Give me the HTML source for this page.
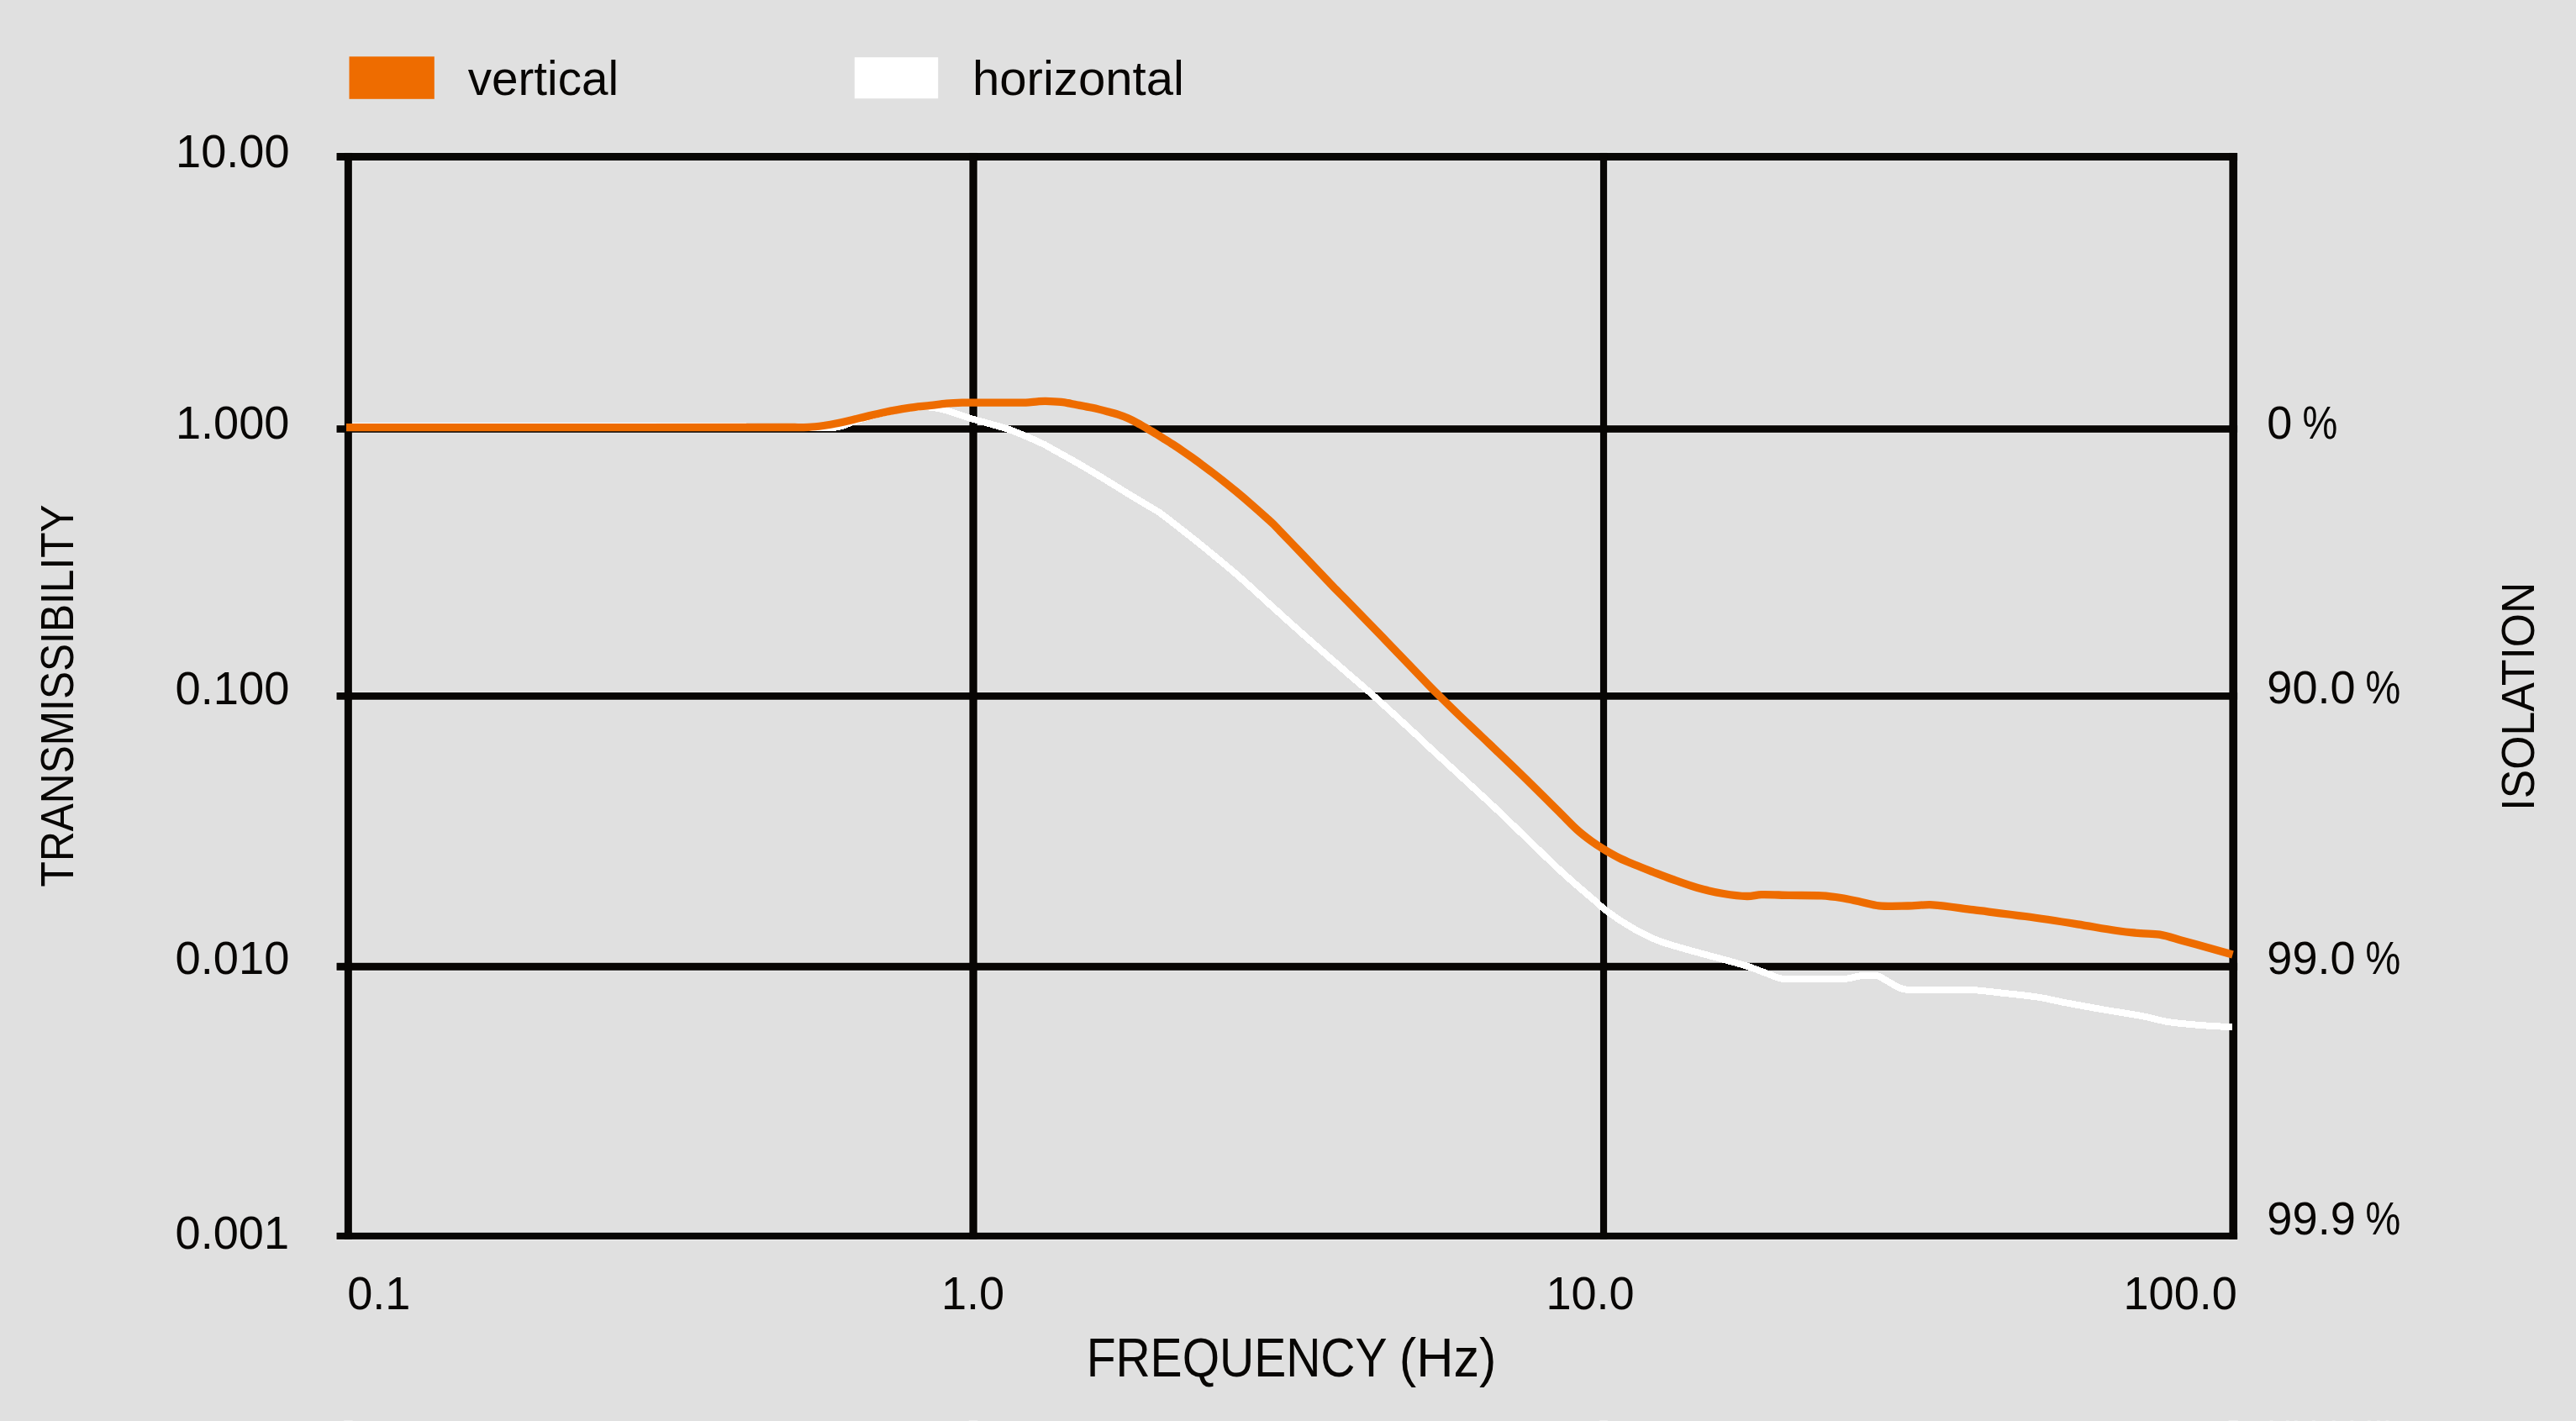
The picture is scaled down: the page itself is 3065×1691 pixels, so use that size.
<!DOCTYPE html>
<html lang="en"><head><meta charset="utf-8"><title>Transmissibility vs. Frequency</title>
<style>
html,body{margin:0;padding:0;background:#e0e0e0;overflow:hidden;}
body{width:3065px;height:1691px;overflow:hidden;}
svg{display:block;}
.t{font-family:"Liberation Sans",sans-serif;fill:#080604;}
.g{fill:#080604;}
</style></head><body>
<svg width="3065" height="1691" viewBox="0 0 3065 1691">
<rect x="0" y="0" width="3065" height="1691" fill="#e0e0e0"/>
<rect x="415.5" y="67.3" width="101.3" height="50.5" fill="#ee6c00"/>
<rect x="1016.8" y="68.2" width="99.4" height="49" fill="#ffffff"/>
<g fill="#e9e9e9">
<rect x="399.20" y="180.66" width="2264.20" height="11.68"/>
<rect x="399.20" y="504.90" width="2264.20" height="11.20"/>
<rect x="399.20" y="822.75" width="2264.20" height="11.25"/>
<rect x="399.20" y="1144.46" width="2264.20" height="11.64"/>
<rect x="399.20" y="1465.50" width="2264.20" height="10.70"/>
<rect x="408.50" y="180.66" width="11.65" height="1295.54"/>
<rect x="1152.10" y="180.66" width="11.90" height="1295.54"/>
<rect x="1902.60" y="180.66" width="10.85" height="1295.54"/>
<rect x="2651.10" y="180.66" width="12.30" height="1295.54"/>
<rect x="409.20" y="1690" width="10.25" height="1" fill="#ececec"/>
<rect x="1152.80" y="1690" width="10.50" height="1" fill="#ececec"/>
<rect x="1903.30" y="1690" width="9.45" height="1" fill="#ececec"/>
<rect x="2651.80" y="1690" width="10.90" height="1" fill="#ececec"/>
<rect x="2700.6" y="1690" width="3.8" height="1" fill="#e8e8e8"/>
<rect x="2720.0" y="1690" width="3.8" height="1" fill="#e8e8e8"/>
<rect x="2730.0" y="1690" width="3.8" height="1" fill="#e8e8e8"/>
<rect x="2751.0" y="1690" width="3.8" height="1" fill="#e8e8e8"/>
<rect x="2775.0" y="1690" width="3.8" height="1" fill="#e8e8e8"/>
<rect x="2796.5" y="1690" width="3.8" height="1" fill="#e8e8e8"/>
<rect x="2817.0" y="1690" width="3.8" height="1" fill="#e8e8e8"/>
<rect x="2828.0" y="1690" width="3.8" height="1" fill="#e8e8e8"/>
<rect x="2838.5" y="1690" width="3.8" height="1" fill="#e8e8e8"/>
</g>
<g class="g">
<rect x="400.50" y="181.96" width="2261.60" height="9.08"/>
<rect x="400.50" y="506.20" width="2261.60" height="8.60"/>
<rect x="400.50" y="824.05" width="2261.60" height="8.65"/>
<rect x="400.50" y="1145.76" width="2261.60" height="9.04"/>
<rect x="400.50" y="1466.80" width="2261.60" height="8.10"/>
<rect x="409.80" y="181.96" width="9.05" height="1292.94"/>
<rect x="1153.40" y="181.96" width="9.30" height="1292.94"/>
<rect x="1903.90" y="181.96" width="8.25" height="1292.94"/>
<rect x="2652.40" y="181.96" width="9.70" height="1292.94"/>
</g>
<path d="M419.20 507.40 C512.80 507.40 606.40 507.36 700.00 507.40 C780.00 507.43 860.00 507.24 940.00 507.60 C948.34 507.64 956.67 508.30 965.00 508.60 C971.67 508.84 978.33 509.41 985.00 509.20 C990.03 509.04 995.12 508.74 1000.00 507.50 C1006.60 505.82 1012.72 502.59 1019.20 500.50 C1026.89 498.02 1034.67 495.79 1042.50 493.80 C1051.74 491.45 1061.04 489.29 1070.40 487.50 C1076.58 486.32 1082.84 485.58 1089.10 484.90 C1092.72 484.51 1096.36 484.28 1100.00 484.30 C1103.34 484.32 1106.69 484.56 1110.00 485.00 C1113.93 485.53 1117.87 486.18 1121.70 487.20 C1127.88 488.85 1133.91 491.02 1140.00 493.00 C1144.78 494.55 1149.51 496.27 1154.30 497.80 C1156.18 498.40 1158.10 498.87 1160.00 499.40 C1166.67 501.27 1173.34 503.10 1180.00 505.00 C1186.34 506.80 1192.75 508.39 1199.00 510.50 C1204.73 512.43 1210.33 514.75 1215.90 517.10 C1224.53 520.75 1233.13 524.50 1241.60 528.50 C1244.50 529.87 1247.20 531.64 1250.00 533.20 C1260.33 538.97 1270.74 544.60 1281.00 550.50 C1291.44 556.50 1301.79 562.67 1312.10 568.90 C1322.46 575.17 1332.66 581.69 1343.00 588.00 C1350.63 592.66 1358.34 597.20 1366.00 601.80 C1370.27 604.36 1374.66 606.74 1378.80 609.50 C1382.67 612.08 1386.30 614.99 1390.00 617.80 C1393.37 620.36 1396.67 622.99 1400.00 625.60 C1408.87 632.56 1417.86 639.38 1426.60 646.50 C1442.26 659.25 1457.92 672.00 1473.20 685.20 C1486.36 696.57 1498.99 708.55 1511.90 720.20 C1524.59 731.65 1537.21 743.17 1550.00 754.50 C1566.57 769.17 1583.32 783.65 1600.00 798.20 C1611.45 808.19 1623.08 817.96 1634.40 828.10 C1651.15 843.10 1667.67 858.36 1684.20 873.60 C1689.54 878.52 1694.69 883.65 1700.00 888.60 C1710.22 898.12 1720.54 907.53 1730.80 917.00 C1746.34 931.33 1762.01 945.51 1777.40 960.00 C1791.75 973.51 1805.80 987.34 1820.00 1001.00 C1831.26 1011.84 1842.39 1022.82 1853.80 1033.50 C1861.16 1040.39 1868.72 1047.06 1876.30 1053.70 C1883.72 1060.19 1891.35 1066.45 1898.80 1072.90 C1902.05 1075.71 1905.01 1078.86 1908.40 1081.50 C1914.29 1086.07 1920.35 1090.43 1926.60 1094.50 C1934.19 1099.44 1941.92 1104.22 1949.90 1108.50 C1957.47 1112.56 1965.17 1116.45 1973.20 1119.50 C1983.31 1123.34 1993.81 1126.07 2004.20 1129.10 C2014.52 1132.11 2024.93 1134.76 2035.30 1137.60 C2045.63 1140.43 2055.99 1143.18 2066.30 1146.10 C2071.53 1147.58 2076.77 1149.03 2081.90 1150.80 C2089.74 1153.50 2097.40 1156.69 2105.20 1159.50 C2110.34 1161.35 2115.28 1164.16 2120.70 1164.80 C2130.40 1165.95 2140.23 1164.80 2150.00 1164.80 C2165.07 1164.80 2180.16 1165.68 2195.20 1164.80 C2202.57 1164.37 2209.65 1161.54 2217.00 1160.90 C2222.65 1160.41 2228.47 1160.17 2234.00 1161.40 C2238.00 1162.29 2241.29 1165.15 2244.90 1167.10 C2250.10 1169.91 2254.94 1173.45 2260.40 1175.70 C2263.83 1177.12 2267.59 1177.78 2271.30 1178.00 C2280.85 1178.55 2290.43 1178.01 2300.00 1178.00 C2314.83 1177.98 2329.68 1177.28 2344.50 1177.90 C2355.95 1178.38 2367.31 1180.06 2378.70 1181.30 C2394.25 1182.99 2409.84 1184.37 2425.30 1186.70 C2435.73 1188.27 2445.94 1191.02 2456.30 1193.00 C2471.81 1195.96 2487.35 1198.78 2502.90 1201.50 C2518.41 1204.21 2534.03 1206.37 2549.50 1209.30 C2559.93 1211.27 2570.11 1214.58 2580.60 1216.20 C2593.45 1218.18 2606.44 1219.05 2619.40 1220.10 C2631.65 1221.09 2643.93 1221.57 2656.20 1222.30" fill="none" stroke="#ffffff" stroke-width="8.0" stroke-linejoin="round" stroke-linecap="butt" shape-rendering="crispEdges"/>
<path d="M412.00 508.70 C508.00 508.70 604.00 508.74 700.00 508.70 C780.00 508.67 860.00 508.62 940.00 508.50 C947.33 508.49 954.68 508.67 962.00 508.30 C968.02 508.00 974.02 507.29 980.00 506.50 C985.33 505.79 990.64 504.90 995.90 503.80 C1005.28 501.83 1014.57 499.49 1023.90 497.30 C1033.20 495.12 1042.45 492.66 1051.80 490.70 C1061.09 488.76 1070.42 486.99 1079.80 485.60 C1089.06 484.23 1098.40 483.48 1107.70 482.40 C1113.90 481.68 1120.08 480.73 1126.30 480.20 C1132.52 479.67 1138.76 479.40 1145.00 479.20 C1150.00 479.04 1155.00 479.11 1160.00 479.10 C1170.00 479.08 1180.00 479.10 1190.00 479.10 C1200.20 479.10 1210.40 479.40 1220.60 479.10 C1225.25 478.96 1229.86 478.16 1234.50 477.80 C1237.63 477.56 1240.76 477.23 1243.90 477.30 C1250.11 477.43 1256.33 477.67 1262.50 478.40 C1268.75 479.14 1274.91 480.55 1281.10 481.70 C1287.34 482.85 1293.60 483.94 1299.80 485.30 C1306.04 486.67 1312.22 488.28 1318.40 489.90 C1322.29 490.92 1326.18 491.93 1330.00 493.20 C1333.92 494.50 1337.81 495.95 1341.60 497.60 C1345.55 499.32 1349.39 501.28 1353.20 503.30 C1357.13 505.38 1360.96 507.65 1364.80 509.90 C1368.70 512.18 1372.54 514.55 1376.40 516.90 C1379.01 518.49 1381.61 520.08 1384.20 521.70 C1388.08 524.12 1391.97 526.51 1395.80 529.00 C1399.71 531.54 1403.56 534.17 1407.40 536.80 C1411.29 539.47 1415.16 542.16 1419.00 544.90 C1422.90 547.69 1426.75 550.55 1430.60 553.40 C1434.48 556.28 1438.36 559.17 1442.20 562.10 C1446.09 565.07 1449.97 568.05 1453.80 571.10 C1459.24 575.42 1464.66 579.76 1470.00 584.20 C1476.73 589.79 1483.39 595.46 1490.00 601.20 C1496.06 606.46 1502.03 611.84 1508.00 617.20 C1510.49 619.44 1513.02 621.65 1515.40 624.00 C1518.02 626.58 1520.45 629.35 1523.00 632.00 C1531.98 641.35 1541.04 650.63 1550.00 660.00 C1562.24 672.80 1574.33 685.74 1586.60 698.50 C1590.99 703.07 1595.57 707.46 1600.00 712.00 C1616.71 729.13 1633.37 746.30 1650.00 763.50 C1666.70 780.77 1683.28 798.15 1700.00 815.40 C1704.28 819.82 1708.63 824.17 1713.00 828.50 C1720.46 835.87 1727.94 843.23 1735.50 850.50 C1744.24 858.90 1753.13 867.14 1761.90 875.50 C1777.43 890.30 1793.02 905.05 1808.40 920.00 C1824.05 935.21 1839.50 950.63 1855.00 966.00 C1862.13 973.07 1868.88 980.54 1876.30 987.30 C1881.63 992.16 1887.38 996.54 1893.20 1000.80 C1898.09 1004.38 1903.21 1007.66 1908.40 1010.80 C1914.35 1014.40 1920.37 1017.90 1926.60 1021.00 C1932.59 1023.98 1938.82 1026.44 1945.00 1029.00 C1952.09 1031.94 1959.25 1034.72 1966.40 1037.50 C1973.81 1040.38 1981.21 1043.33 1988.70 1046.00 C1999.01 1049.67 2009.27 1053.53 2019.80 1056.50 C2030.00 1059.37 2040.36 1061.73 2050.80 1063.50 C2060.05 1065.07 2069.42 1066.27 2078.80 1066.50 C2084.50 1066.64 2090.10 1064.73 2095.80 1064.60 C2106.67 1064.36 2117.53 1065.20 2128.40 1065.40 C2141.37 1065.64 2154.35 1065.25 2167.30 1065.90 C2175.11 1066.29 2182.88 1067.29 2190.60 1068.50 C2198.43 1069.73 2206.14 1071.60 2213.90 1073.20 C2221.14 1074.70 2228.23 1077.17 2235.60 1077.80 C2247.03 1078.78 2258.53 1078.18 2270.00 1078.00 C2279.84 1077.85 2289.68 1076.21 2299.50 1076.80 C2315.62 1077.78 2331.57 1080.71 2347.60 1082.70 C2368.34 1085.28 2389.10 1087.65 2409.80 1090.50 C2430.54 1093.35 2451.22 1096.56 2471.90 1099.80 C2487.42 1102.23 2502.85 1105.23 2518.40 1107.50 C2527.70 1108.86 2537.05 1109.84 2546.40 1110.70 C2554.15 1111.41 2562.03 1110.89 2569.70 1112.20 C2578.67 1113.73 2587.31 1116.83 2596.10 1119.20 C2606.44 1121.99 2616.78 1124.83 2627.10 1127.70 C2636.91 1130.43 2646.70 1133.23 2656.50 1136.00" fill="none" stroke="#ee6c00" stroke-width="9.3" stroke-linejoin="round" stroke-linecap="butt"/>
<text class="t" y="113.09" font-size="56.50"><tspan x="556.68" textLength="179.37" lengthAdjust="spacingAndGlyphs">vertical</tspan></text>
<text class="t" y="112.96" font-size="56.50"><tspan x="1157.01" textLength="251.84" lengthAdjust="spacingAndGlyphs">horizontal</tspan></text>
<text class="t" y="198.96" font-size="55.90"><tspan x="209.10" textLength="135.41" lengthAdjust="spacingAndGlyphs">10.00</tspan></text>
<text class="t" y="522.37" font-size="55.90"><tspan x="208.99" textLength="135.41" lengthAdjust="spacingAndGlyphs">1.000</tspan></text>
<text class="t" y="837.96" font-size="55.90"><tspan x="208.57" textLength="135.80" lengthAdjust="spacingAndGlyphs">0.100</tspan></text>
<text class="t" y="1158.96" font-size="55.90"><tspan x="208.57" textLength="135.80" lengthAdjust="spacingAndGlyphs">0.010</tspan></text>
<text class="t" y="1485.96" font-size="55.90"><tspan x="208.58" textLength="135.41" lengthAdjust="spacingAndGlyphs">0.001</tspan></text>
<text class="t" y="1557.97" font-size="55.90"><tspan x="413.25" textLength="75.22" lengthAdjust="spacingAndGlyphs">0.1</tspan></text>
<text class="t" y="1558.00" font-size="55.90"><tspan x="1120.00" textLength="75.22" lengthAdjust="spacingAndGlyphs">1.0</tspan></text>
<text class="t" y="1557.96" font-size="55.90"><tspan x="1839.40" textLength="105.32" lengthAdjust="spacingAndGlyphs">10.0</tspan></text>
<text class="t" y="1557.96" font-size="55.90"><tspan x="2526.50" textLength="135.41" lengthAdjust="spacingAndGlyphs">100.0</tspan></text>
<text class="t" y="1637.80" font-size="65.20"><tspan x="1292.63" textLength="356.92" lengthAdjust="spacingAndGlyphs">FREQUENCY</tspan> <tspan x="1664.85" textLength="115.66" lengthAdjust="spacingAndGlyphs">(Hz)</tspan></text>
<text class="t" y="522.37" font-size="55.90"><tspan x="2697.28" textLength="30.09" lengthAdjust="spacingAndGlyphs">0</tspan> <tspan x="2739.61" textLength="41.83" lengthAdjust="spacingAndGlyphs">%</tspan></text>
<text class="t" y="836.86" font-size="55.90"><tspan x="2697.36" textLength="105.30" lengthAdjust="spacingAndGlyphs">90.0</tspan> <tspan x="2814.61" textLength="41.78" lengthAdjust="spacingAndGlyphs">%</tspan></text>
<text class="t" y="1158.96" font-size="55.90"><tspan x="2697.36" textLength="105.30" lengthAdjust="spacingAndGlyphs">99.0</tspan> <tspan x="2814.61" textLength="41.78" lengthAdjust="spacingAndGlyphs">%</tspan></text>
<text class="t" y="1468.76" font-size="55.90"><tspan x="2697.35" textLength="105.56" lengthAdjust="spacingAndGlyphs">99.9</tspan> <tspan x="2814.61" textLength="41.78" lengthAdjust="spacingAndGlyphs">%</tspan></text>
<text class="t" transform="translate(87.09 0) rotate(-90)" y="0" font-size="55.90"><tspan x="-1055.45" textLength="455.05" lengthAdjust="spacingAndGlyphs">TRANSMISSIBILITY</tspan></text>
<text class="t" transform="translate(3015.07 0) rotate(-90)" y="0" font-size="55.90"><tspan x="-964.64" textLength="271.97" lengthAdjust="spacingAndGlyphs">ISOLATION</tspan></text>
</svg></body></html>
